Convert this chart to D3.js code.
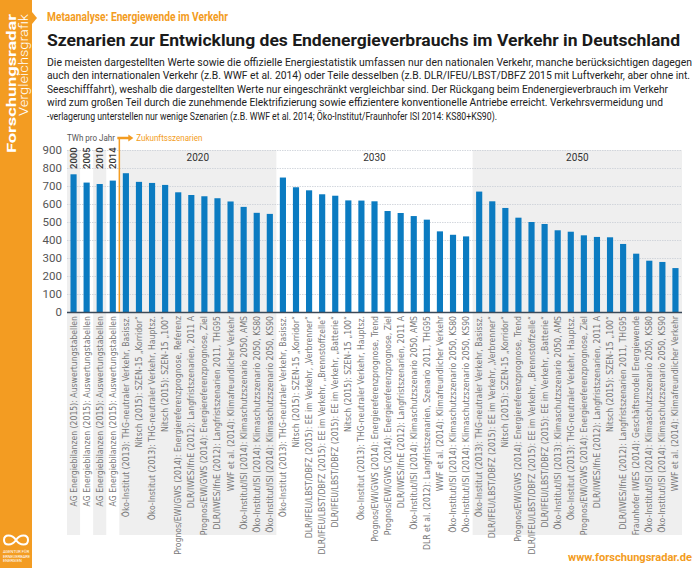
<!DOCTYPE html>
<html>
<head>
<meta charset="utf-8">
<script src="https://cdn.jsdelivr.net/npm/d3@7"></script>
<style>
  body { margin: 0; background: #fff; }
  svg { display: block; }
</style>
</head>
<body>
<div id="chart"></div>
<script>
// Data
var histYears = ['2000', '2005', '2010', '2014'];
var histValues = [765, 719, 711, 730];
var histLabels = [
    'AG Energiebilanzen (2015): Auswertungstabellen',
    'AG Energiebilanzen (2015): Auswertungstabellen',
    'AG Energiebilanzen (2015): Auswertungstabellen',
    'AG Energiebilanzen (2015): Auswertungstabellen'
];

var labels2020 = [
    'Öko-Institut (2013): THG-neutraler Verkehr, Basissz.',
    'Nitsch (2015): SZEN-15 „Korridor“',
    'Öko-Institut (2013): THG-neutraler Verkehr, Hauptsz.',
    'Nitsch (2015): SZEN-15 „100“',
    'Prognos/EWI/GWS (2014): Energiereferenzprognose, Referenz',
    'DLR/IWES/IfnE (2012): Langfristszenarien, 2011 A',
    'Prognos/EWI/GWS (2014): Energiereferenzprognose, Ziel',
    'DLR/IWES/IfnE (2012): Langfristszenarien 2011, THG95',
    'WWF et al. (2014): Klimafreundlicher Verkehr',
    'Öko-Institut/ISI (2014): Klimaschutzszenario 2050, AMS',
    'Öko-Institut/ISI (2014): Klimaschutzszenario 2050, KS80',
    'Öko-Institut/ISI (2014): Klimaschutzszenario 2050, KS90'
];
var values2020 = [771, 723, 717, 706, 665, 650, 643, 632, 614, 584, 551, 545];

var labels2030 = [
    'Öko-Institut (2013): THG-neutraler Verkehr, Basissz.',
    'Nitsch (2015): SZEN-15 „Korridor“',
    'DLR/IFEU/LBST/DBFZ (2015): EE im Verkehr, „Verbrenner“',
    'DLR/IFEU/LBST/DBFZ (2015): EE im Verkehr, „Brennstoffzelle“',
    'DLR/IFEU/LBST/DBFZ (2015): EE im Verkehr, „Batterie“',
    'Nitsch (2015): SZEN-15 „100“',
    'Öko-Institut (2013): THG-neutraler Verkehr, Hauptsz.',
    'Prognos/EWI/GWS (2014): Energiereferenzprognose, Trend',
    'Prognos/EWI/GWS (2014): Energiereferenzprognose, Ziel',
    'DLR/IWES/IfnE (2012): Langfristszenarien, 2011 A',
    'Öko-Institut/ISI (2014): Klimaschutzszenario 2050, AMS',
    'DLR et al. (2012): Langfristszenarien, Szenario 2011, THG95',
    'WWF et al. (2014): Klimafreundlicher Verkehr',
    'Öko-Institut/ISI (2014): Klimaschutzszenario 2050, KS80',
    'Öko-Institut/ISI (2014): Klimaschutzszenario 2050, KS90'
];
var values2030 = [747, 693, 676, 654, 646, 620, 619, 615, 561, 550, 533, 513, 448, 429, 420];

var labels2050 = [
    'Öko-Institut (2013): THG-neutraler Verkehr, Basissz.',
    'DLR/IFEU/LBST/DBFZ (2015): EE im Verkehr, „Verbrenner“',
    'Nitsch (2015): SZEN-15 „Korridor“',
    'Prognos/EWI/GWS (2014): Energiereferenzprognose, Trend',
    'DLR/IFEU/LBST/DBFZ (2015): EE im Verkehr, „Brennstoffzelle“',
    'DLR/IFEU/LBST/DBFZ (2015): EE im Verkehr, „Batterie“',
    'Öko-Institut/ISI (2013): Klimaschutzszenario 2050, AMS',
    'Öko-Institut (2013): THG-neutraler Verkehr, Hauptsz.',
    'Prognos/EWI/GWS (2014): Energiereferenzprognose, Ziel',
    'DLR/IWES/IfnE (2012): Langfristszenarien, 2011 A',
    'Nitsch (2015): SZEN-15 „100“',
    'DLR/IWES/IfnE (2012): Langfristszenarien 2011, THG95',
    'Fraunhofer IWES (2014): Geschäftsmodell Energiewende',
    'Öko-Institut/ISI (2014): Klimaschutzszenario 2050, KS80',
    'Öko-Institut/ISI (2014): Klimaschutzszenario 2050, KS90',
    'WWF et al. (2014): Klimafreundlicher Verkehr'
];
var values2050 = [669, 615, 578, 524, 500, 489, 454, 446, 426, 417, 415, 378, 324, 285, 278, 244];

var groupNames = ['2020', '2030', '2050'];
var yTicks = [0, 100, 200, 300, 400, 500, 600, 700, 800, 900];

var paragraph = [
    'Die meisten dargestellten Werte sowie die offizielle Energiestatistik umfassen nur den nationalen Verkehr, manche berücksichtigen dagegen',
    'auch den internationalen Verkehr (z.B. WWF et al. 2014) oder Teile desselben (z.B. DLR/IFEU/LBST/DBFZ 2015 mit Luftverkehr, aber ohne int.',
    'Seeschifffahrt), weshalb die dargestellten Werte nur eingeschränkt vergleichbar sind. Der Rückgang beim Endenergieverbrauch im Verkehr',
    'wird zum großen Teil durch die zunehmende Elektrifizierung sowie effizientere konventionelle Antriebe erreicht. Verkehrsvermeidung und',
    '-verlagerung unterstellen nur wenige Szenarien (z.B. WWF et al. 2014; Öko-Institut/Fraunhofer ISI 2014: KS80+KS90).'
];
var paragraphWidths = [645, 643, 621, 616, 450];

// Build a flat list of bars
var bars = [];
histYears.forEach(function (yr, i) {
    bars.push({ group: 'hist', year: yr, label: histLabels[i], value: histValues[i] });
});
[[labels2020, values2020], [labels2030, values2030], [labels2050, values2050]].forEach(function (g, gi) {
    g[0].forEach(function (lab, i) {
        bars.push({ group: groupNames[gi], label: lab, value: g[1][i] });
    });
});
bars.forEach(function (d, i) { d.idx = i; });

var W = 700, H = 568;
var orange = '#f39c22';
var blue = '#0b7bc1';
var stripe = '#efefef';
var condensed = '"Liberation Sans Narrow", "DejaVu Sans Condensed", sans-serif';
var din = 'Roboto, "Noto Sans", sans-serif';

var svg = d3.select('#chart').append('svg')
    .attr('width', W)
    .attr('height', H);

// Sidebar
svg.append('rect').attr('x', 0).attr('y', 0).attr('width', 32).attr('height', H).attr('fill', orange);
svg.append('path').attr('d', 'M32,12 L37,18 L32,24 Z').attr('fill', orange);
svg.append('text')
    .attr('transform', 'translate(15.5,14) rotate(-90)')
    .attr('text-anchor', 'end')
    .attr('font-family', din).attr('font-weight', 700).attr('font-size', 13)
    .attr('fill', '#fff').attr('textLength', 139).attr('lengthAdjust', 'spacingAndGlyphs')
    .text('Forschungsradar');
svg.append('text')
    .attr('transform', 'translate(27.5,14) rotate(-90)')
    .attr('text-anchor', 'end')
    .attr('font-family', din).attr('font-weight', 300).attr('font-size', 13)
    .attr('fill', '#fff').attr('textLength', 102).attr('lengthAdjust', 'spacingAndGlyphs')
    .text('Vergleichsgrafik');

// Logo
var logo = svg.append('g').attr('transform', 'translate(16,540)');
logo.append('path')
    .attr('d', 'M0,0 C-4,-6 -12,-6 -12,0 C-12,6 -4,6 0,0 C4,-6 12,-6 12,0 C12,6 4,6 0,0 Z')
    .attr('fill', 'none').attr('stroke', '#fff').attr('stroke-width', 2);
['AGENTUR FÜR', 'ERNEUERBARE', 'ENERGIEN'].forEach(function (t, i) {
    svg.append('text').attr('x', 3).attr('y', 553 + i * 4.5)
        .attr('font-family', din).attr('font-size', 4).attr('fill', '#fff').text(t);
});

// Header
svg.append('text').attr('x', 47).attr('y', 21)
    .attr('font-family', din).attr('font-weight', 700).attr('font-size', 13)
    .attr('fill', orange).attr('textLength', 181).attr('lengthAdjust', 'spacingAndGlyphs')
    .text('Metaanalyse: Energiewende im Verkehr');
svg.append('text').attr('x', 47).attr('y', 46)
    .attr('font-family', din).attr('font-weight', 700).attr('font-size', 16.5)
    .attr('fill', '#1a1a1a').attr('textLength', 633).attr('lengthAdjust', 'spacingAndGlyphs')
    .text('Szenarien zur Entwicklung des Endenergieverbrauchs im Verkehr in Deutschland');
paragraph.forEach(function (line, i) {
    svg.append('text').attr('x', 47).attr('y', 66 + i * 13.4)
        .attr('font-family', din).attr('font-size', 10.3)
        .attr('fill', '#222').attr('textLength', paragraphWidths[i]).attr('lengthAdjust', 'spacingAndGlyphs')
        .text(line);
});

// Scales
var x = d3.scaleBand()
    .domain(bars.map(function (d) { return d.idx; }))
    .range([67, 682])
    .padding(0);
var barW = x.bandwidth() * 0.47;

var y = d3.scaleLinear()
    .domain([0, 900])
    .range([312, 150]);

var bandTop = 150, bandBottom = 535;

// Background stripes: historic alternating, then groups
var histBars = bars.filter(function (d) { return d.group === 'hist'; });
svg.append('g').selectAll('rect.hist')
    .data(histBars.filter(function (d, i) { return i % 2 === 0; }))
    .enter().append('rect')
    .attr('x', function (d) { return x(d.idx); })
    .attr('y', bandTop)
    .attr('width', x.bandwidth())
    .attr('height', bandBottom - bandTop)
    .attr('fill', stripe);

var groupSpans = groupNames.map(function (g) {
    var gb = bars.filter(function (d) { return d.group === g; });
    return {
        name: g,
        x0: x(gb[0].idx),
        x1: x(gb[gb.length - 1].idx) + x.bandwidth()
    };
});
svg.append('g').selectAll('rect')
    .data(groupSpans.filter(function (d) { return d.name !== '2030'; }))
    .enter().append('rect')
    .attr('x', function (d) { return d.x0; })
    .attr('y', bandTop)
    .attr('width', function (d) { return d.x1 - d.x0; })
    .attr('height', bandBottom - bandTop)
    .attr('fill', stripe);

// Grid
svg.append('g').selectAll('line')
    .data(yTicks.filter(function (t) { return t > 0; }))
    .enter().append('line')
    .attr('x1', 67).attr('x2', 682)
    .attr('y1', function (d) { return y(d) + 0.5; })
    .attr('y2', function (d) { return y(d) + 0.5; })
    .attr('stroke', '#c9ced6').attr('stroke-width', 0.8)
    .attr('stroke-dasharray', '1.5,1');

// Y axis labels
var yAxis = d3.axisLeft(y).tickValues(yTicks).tickSize(0).tickPadding(0);
var yG = svg.append('g').attr('transform', 'translate(62,0)').call(yAxis);
yG.select('.domain').remove();
yG.selectAll('text')
    .attr('font-family', din).attr('font-size', 11.5).attr('fill', '#555');

// Bars
svg.append('g').selectAll('rect')
    .data(bars)
    .enter().append('rect')
    .attr('x', function (d) { return x(d.idx) + (x.bandwidth() - barW) / 2; })
    .attr('y', function (d) { return y(d.value); })
    .attr('width', barW)
    .attr('height', function (d) { return y(0) - y(d.value); })
    .attr('fill', blue);

// Baseline
svg.append('line').attr('x1', 67).attr('x2', 682)
    .attr('y1', y(0) + 0.5).attr('y2', y(0) + 0.5)
    .attr('stroke', '#3b4a5a').attr('stroke-width', 1.4);

// Category labels (rotated)
svg.append('g').selectAll('text')
    .data(bars)
    .enter().append('text')
    .attr('transform', function (d) {
        return 'translate(' + (x(d.idx) + x.bandwidth() / 2 + 3) + ',316) rotate(-90)';
    })
    .attr('text-anchor', 'end')
    .attr('font-family', condensed).attr('font-size', 8.6)
    .attr('fill', '#777')
    .text(function (d) { return d.label; });

// Historic year labels
svg.append('g').selectAll('text')
    .data(histBars)
    .enter().append('text')
    .attr('transform', function (d) {
        return 'translate(' + (x(d.idx) + x.bandwidth() / 2 + 3.5) + ',169) rotate(-90)';
    })
    .attr('font-family', din).attr('font-weight', 500).attr('font-size', 9.5)
    .attr('fill', '#333')
    .text(function (d) { return d.year; });

// Group labels
svg.append('g').selectAll('text')
    .data(groupSpans)
    .enter().append('text')
    .attr('x', function (d) { return (d.x0 + d.x1) / 2; })
    .attr('y', 161)
    .attr('text-anchor', 'middle')
    .attr('font-family', din).attr('font-weight', 400).attr('font-size', 10)
    .attr('fill', '#333')
    .text(function (d) { return d.name; });

// Future marker
var splitX = groupSpans[0].x0;
svg.append('line').attr('x1', splitX).attr('x2', splitX).attr('y1', 137).attr('y2', y(0))
    .attr('stroke', orange).attr('stroke-width', 1.5);
svg.append('line').attr('x1', splitX - 2).attr('x2', splitX + 10).attr('y1', 138).attr('y2', 138)
    .attr('stroke', orange).attr('stroke-width', 2.5);
svg.append('path').attr('d', 'M' + (splitX + 9) + ',134.5 L' + (splitX + 14) + ',138 L' + (splitX + 9) + ',141.5 Z')
    .attr('fill', orange);
svg.append('text').attr('x', 67).attr('y', 141)
    .attr('font-family', din).attr('font-size', 9.5).attr('fill', '#555')
    .attr('textLength', 48).attr('lengthAdjust', 'spacingAndGlyphs')
    .text('TWh pro Jahr');
svg.append('text').attr('x', splitX + 17).attr('y', 141)
    .attr('font-family', din).attr('font-size', 9.5).attr('fill', orange)
    .attr('textLength', 66).attr('lengthAdjust', 'spacingAndGlyphs')
    .text('Zukunftsszenarien');

// Footer
svg.append('text').attr('x', 692).attr('y', 561)
    .attr('text-anchor', 'end')
    .attr('font-family', din).attr('font-weight', 700).attr('font-size', 11)
    .attr('fill', orange).attr('textLength', 124).attr('lengthAdjust', 'spacingAndGlyphs')
    .text('www.forschungsradar.de');
</script>
</body>
</html>
